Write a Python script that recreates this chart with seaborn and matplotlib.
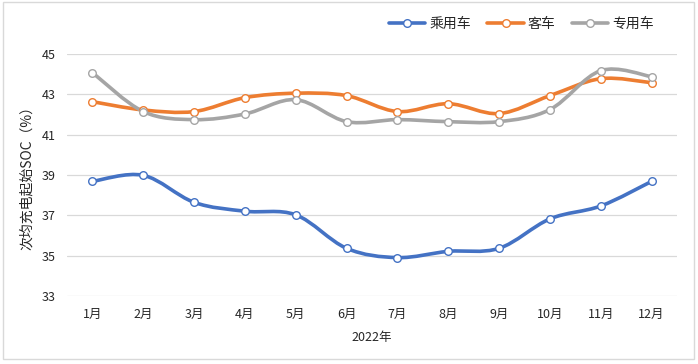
import numpy as np
import pandas as pd
import matplotlib
matplotlib.use("Agg")
import matplotlib.pyplot as plt
from matplotlib.path import Path
from matplotlib.patches import PathPatch, Rectangle
from matplotlib.lines import Line2D
import seaborn as sns

months = ["1月", "2月", "3月", "4月", "5月", "6月", "7月", "8月", "9月", "10月", "11月", "12月"]
passenger = [38.68, 38.98, 37.64, 37.20, 37.02, 35.36, 34.90, 35.21, 35.36, 36.82, 37.46, 38.68]
bus = [42.63, 42.22, 42.14, 42.83, 43.05, 42.93, 42.14, 42.53, 42.04, 42.93, 43.77, 43.57]
special = [44.07, 42.14, 41.74, 42.02, 42.73, 41.64, 41.74, 41.64, 41.64, 42.24, 44.17, 43.87]
series_names = ["乘用车", "客车", "专用车"]
colors = ["#4472C4", "#ED7D31", "#A5A5A5"]

sns.set_theme(style="white")
plt.rcParams['font.family'] = ['Noto Sans CJK SC', 'DejaVu Sans']

df = pd.DataFrame({"month": months * 3,
                   "x": list(range(12)) * 3,
                   "soc": passenger + bus + special,
                   "kind": [n for n in series_names for _ in months]})

fig = plt.figure(figsize=(6.98, 3.64), dpi=100)
ax = fig.add_axes([0.096, 0.187, 0.874, 0.665])

# Excel-style smoothed line: cubic bezier through the points
def smooth_path(ys):
    xs = np.arange(len(ys), dtype=float)
    pts = np.column_stack([xs, ys])
    verts = [pts[0]]
    codes = [Path.MOVETO]
    n = len(pts)
    for i in range(n - 1):
        p0 = pts[max(i - 1, 0)]
        p1 = pts[i]
        p2 = pts[i + 1]
        p3 = pts[min(i + 2, n - 1)]
        c1 = p1 + (p2 - p0) / 6.0
        c2 = p2 - (p3 - p1) / 6.0
        verts += [c1, c2, p2]
        codes += [Path.CURVE4] * 3
    return Path(verts, codes)

for name, col in zip(series_names, colors):
    sub = df[df.kind == name]
    ax.add_patch(PathPatch(smooth_path(sub["soc"].to_numpy()), facecolor="none",
                           edgecolor=col, lw=2.6, capstyle="round",
                           joinstyle="round", zorder=3))
    sns.scatterplot(data=sub, x="x", y="soc", ax=ax, s=30, color="white",
                    edgecolor=col, linewidth=1.0, zorder=4, legend=False)

ax.set_xlim(-0.5, 11.5)
ax.set_ylim(33, 45)
ax.set_yticks([33, 35, 37, 39, 41, 43, 45])
ax.set_xticks(range(12))
ax.set_xticklabels(months)
ax.tick_params(axis="both", length=0, labelsize=9, colors="#262626")
ax.tick_params(axis="x", pad=9)
ax.tick_params(axis="y", pad=8)
ax.grid(axis="y", color="#D9D9D9", lw=0.9)
ax.set_axisbelow(True)
for s in ax.spines.values():
    s.set_visible(False)
ax.set_xlabel("2022年", fontsize=9, color="#262626", labelpad=7)
ax.set_ylabel("次均充电起始SOC（%）", fontsize=10, color="#262626", labelpad=6)

handles = [Line2D([0], [0], color=c, lw=2.6, marker="o", markersize=5.5,
                  markerfacecolor="white", markeredgecolor=c) for c in colors]
fig.legend(handles, series_names, loc="center right", bbox_to_anchor=(0.955, 0.935),
           ncol=3, frameon=False, fontsize=10, handlelength=2.6, columnspacing=1.2,
           handletextpad=0.3)

fig.patches.append(Rectangle((0.004, 0.015), 0.99, 0.98, transform=fig.transFigure,
                             fill=False, edgecolor="#D9D9D9", lw=1.0))

fig.savefig("out.png", dpi=100, facecolor="white")
